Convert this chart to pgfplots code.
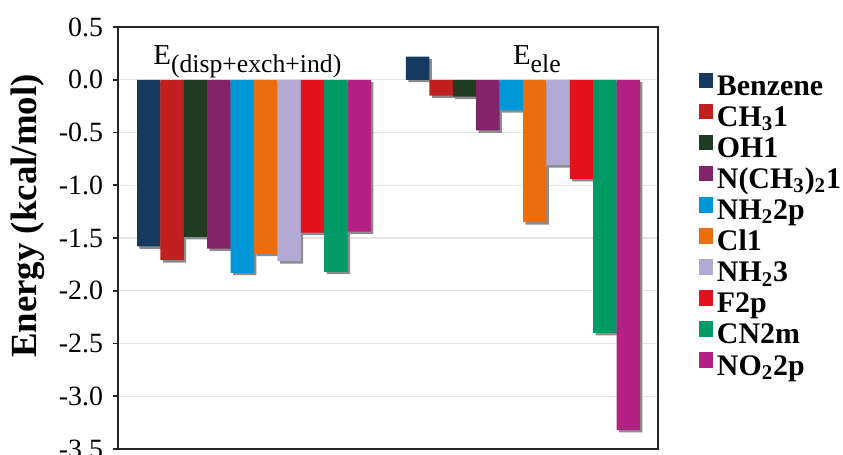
\documentclass[border=0pt]{standalone}
\usepackage{fontspec}
\setmainfont{Liberation Serif}
\usepackage{pgfplots}
\usepackage{pgfplotstable}
\pgfplotsset{compat=1.18}
\definecolor{cBenz}{HTML}{163A5F}
\definecolor{cCH}{HTML}{C0201E}
\definecolor{cOH}{HTML}{213A22}
\definecolor{cNMe}{HTML}{832369}
\definecolor{cNHa}{HTML}{0097D8}
\definecolor{cCl}{HTML}{EA6D0E}
\definecolor{cNHb}{HTML}{B1A9D3}
\definecolor{cF}{HTML}{E3111B}
\definecolor{cCN}{HTML}{009A66}
\definecolor{cNO}{HTML}{B32183}
% x=1: E(disp+exch+ind), x=2: E(ele)
\pgfplotstableread{
x  Benz   CH     OH     NMe    NHa    Cl     NHb    F      CN     NO
1  -1.58  -1.71  -1.49  -1.60  -1.83  -1.65  -1.72  -1.45  -1.82  -1.44
2   0.22  -0.15  -0.16  -0.48  -0.29  -1.35  -0.81  -0.94  -2.40  -3.32
}\datatable
\pgfplotsset{
  lg/.style={legend image code/.code={\fill[#1] (0bp,0bp) rectangle (7bp,7.8bp);}},
  bs/.style={bar shift={(#1-4.5)*11.7bp}},
  shd/.style={forget plot, fill=black!45, bar shift={(#1-4.5)*11.7bp+1.2bp}, transform canvas={yshift=-1.2bp}},
}
\begin{document}
\begin{tikzpicture}
\path[use as bounding box] (-59bp,-3bp) rectangle (362.5bp,224.5bp);
\begin{axis}[
  at={(0,0)}, anchor=south west,
  scale only axis, width=270bp, height=211bp,
  xmin=0.4944, xmax=2.5019, ymin=-3.5, ymax=0.5,
  ytick={-3.5,-3.0,-2.5,-2.0,-1.5,-1.0,-0.5,0.0,0.5},
  xtick=\empty,
  ybar, bar width=11.7bp,
  ymajorgrids, grid style={draw=black!10, line width=0.6bp},
  axis line style={draw=black!85, line width=1bp},
  ytick pos=left, tick align=outside, major tick length=2.5bp,
  tick style={black!85, line width=0.8bp},
  yticklabel style={font=\fontsize{14}{14}\selectfont, xshift=-1.5bp},
  /pgf/number format/.cd, fixed, fixed zerofill, precision=1, assume math mode=true, /pgfplots/.cd,
  ylabel={Energy (kcal/mol)},
  every axis y label/.style={at={(axis description cs:-0.167,0.552)}, rotate=90, anchor=center, font=\fontsize{18.5}{19}\selectfont\bfseries},
  legend cell align=left,
  legend style={at={(axis description cs:1.076,0.893)}, anchor=north west, draw=none, fill=none,
    font=\fontsize{15}{15}\selectfont\bfseries, inner sep=0pt, row sep=0pt,
    nodes={inner sep=0.25bp, text height=11bp, text depth=4bp},
    /tikz/every odd column/.style={column sep=1.5bp}},
  every axis plot/.append style={draw=none},
]
% drop shadows
\addplot[shd=0] table[x=x, y=Benz] {\datatable};
\addplot[shd=1] table[x=x, y=CH] {\datatable};
\addplot[shd=2] table[x=x, y=OH] {\datatable};
\addplot[shd=3] table[x=x, y=NMe] {\datatable};
\addplot[shd=4] table[x=x, y=NHa] {\datatable};
\addplot[shd=5] table[x=x, y=Cl] {\datatable};
\addplot[shd=6] table[x=x, y=NHb] {\datatable};
\addplot[shd=7] table[x=x, y=F] {\datatable};
\addplot[shd=8] table[x=x, y=CN] {\datatable};
\addplot[shd=9] table[x=x, y=NO] {\datatable};
% bars
\addplot[fill=cBenz, lg=cBenz, bs=0] table[x=x, y=Benz] {\datatable};
\addplot[fill=cCH, lg=cCH, bs=1] table[x=x, y=CH] {\datatable};
\addplot[fill=cOH, lg=cOH, bs=2] table[x=x, y=OH] {\datatable};
\addplot[fill=cNMe, lg=cNMe, bs=3] table[x=x, y=NMe] {\datatable};
\addplot[fill=cNHa, lg=cNHa, bs=4] table[x=x, y=NHa] {\datatable};
\addplot[fill=cCl, lg=cCl, bs=5] table[x=x, y=Cl] {\datatable};
\addplot[fill=cNHb, lg=cNHb, bs=6] table[x=x, y=NHb] {\datatable};
\addplot[fill=cF, lg=cF, bs=7] table[x=x, y=F] {\datatable};
\addplot[fill=cCN, lg=cCN, bs=8] table[x=x, y=CN] {\datatable};
\addplot[fill=cNO, lg=cNO, bs=9] table[x=x, y=NO] {\datatable};
\legend{Benzene, CH\textsubscript{3}1, OH1, N(CH\textsubscript{3})\textsubscript{2}1, NH\textsubscript{2}2p, Cl1, NH\textsubscript{2}3, F2p, CN2m, NO\textsubscript{2}2p}
\node[anchor=base west, inner sep=0pt, font=\fontsize{14.5}{15}\selectfont] at (axis cs:0.6245,0.142) {E\raisebox{-4bp}{\fontsize{12.9}{13}\selectfont (disp+exch+ind)}};
\node[anchor=base west, inner sep=0pt, font=\fontsize{14.5}{15}\selectfont] at (axis cs:1.9617,0.14) {E\raisebox{-4bp}{\fontsize{12.9}{13}\selectfont ele}};
\end{axis}
\draw[black!85, line width=1bp] (0bp,0bp) rectangle (270bp,211bp);
\end{tikzpicture}
\end{document}
